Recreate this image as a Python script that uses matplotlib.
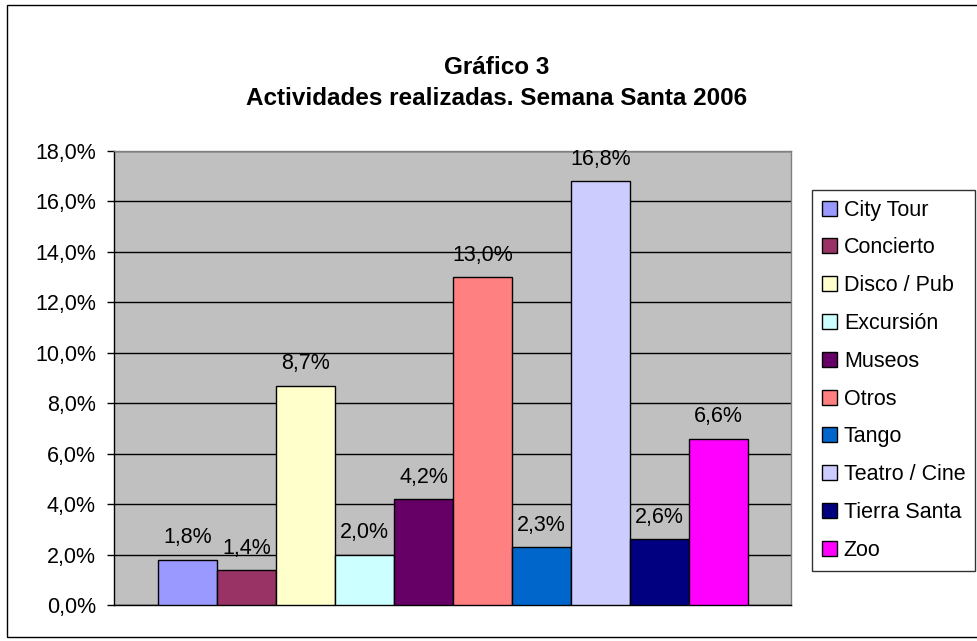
import matplotlib
matplotlib.use("Agg")
import matplotlib.pyplot as plt
from matplotlib.patches import Patch, Rectangle
import numpy as np

plt.rcParams["font.family"] = ["Liberation Sans", "DejaVu Sans"]

# ─── Data ─────────────────────────────────────────────────────────────────────
CATEGORIES = ["City Tour", "Concierto", "Disco / Pub", "Excursión", "Museos",
              "Otros", "Tango", "Teatro / Cine", "Tierra Santa", "Zoo"]
VALUES = [1.8, 1.4, 8.7, 2.0, 4.2, 13.0, 2.3, 16.8, 2.6, 6.6]
COLORS = ["#9999FF", "#993366", "#FFFFCC", "#CCFFFF", "#660066",
          "#FF8080", "#0066CC", "#CCCCFF", "#000080", "#FF00FF"]
Y_TICKS = [0, 2, 4, 6, 8, 10, 12, 14, 16, 18]

TITLE = "Gráfico 3\nActividades realizadas. Semana Santa 2006"

FS = 15.5


def fmt_pct(v):
    return f"{v:.1f}%".replace(".", ",")


W, H = 977, 641
fig = plt.figure(figsize=(W / 100, H / 100), dpi=100)
fig.patch.set_facecolor("white")

# outer chart border
fig.add_artist(Rectangle((7 / W, 4 / H), 1.2, 1 - 9 / H, transform=fig.transFigure,
                         fill=False, edgecolor="black", linewidth=1.0))

ax = fig.add_axes([114 / W, 36 / H, 677 / W, 454 / H])
ax.set_facecolor("#C0C0C0")

x = np.arange(len(VALUES))
ax.bar(x, VALUES, width=1.0, color=COLORS, edgecolor="black", linewidth=1.0, zorder=3)

for xi, v in zip(x, VALUES):
    ax.annotate(fmt_pct(v), (xi, v), xytext=(0, 8), textcoords="offset points",
                ha="center", va="bottom", fontsize=FS, zorder=4)

ax.set_xlim(-0.5 - 0.746, len(VALUES) - 0.5 + 0.73)
ax.set_ylim(0, 18)
ax.set_yticks(Y_TICKS)
ax.set_yticklabels([fmt_pct(t) for t in Y_TICKS], fontsize=FS)
ax.set_xticks([])
ax.grid(axis="y", color="black", linewidth=1.0, zorder=1)
ax.tick_params(axis="y", length=5, width=1.0, pad=8)

for side in ("top", "right"):
    ax.spines[side].set_color("#808080")
    ax.spines[side].set_linewidth(1.0)
for side in ("left", "bottom"):
    ax.spines[side].set_color("black")
    ax.spines[side].set_linewidth(1.0)

fig.text(497 / W, 1 - 83 / H, TITLE, ha="center", va="center",
         fontsize=17.5, fontweight="bold", linespacing=1.4)

handles = [Patch(facecolor=c, edgecolor="black", linewidth=1.0) for c in COLORS]
leg = fig.legend(handles, CATEGORIES, loc="upper left",
                 bbox_to_anchor=(812 / W, 1 - 190 / H), fontsize=FS,
                 frameon=True, fancybox=False, edgecolor="black",
                 handlelength=0.7, handleheight=0.7, handletextpad=0.33,
                 labelspacing=0.78, borderpad=0.45, borderaxespad=0)
leg.get_frame().set_linewidth(1.0)

fig.savefig("out.png", dpi=100, facecolor="white")
